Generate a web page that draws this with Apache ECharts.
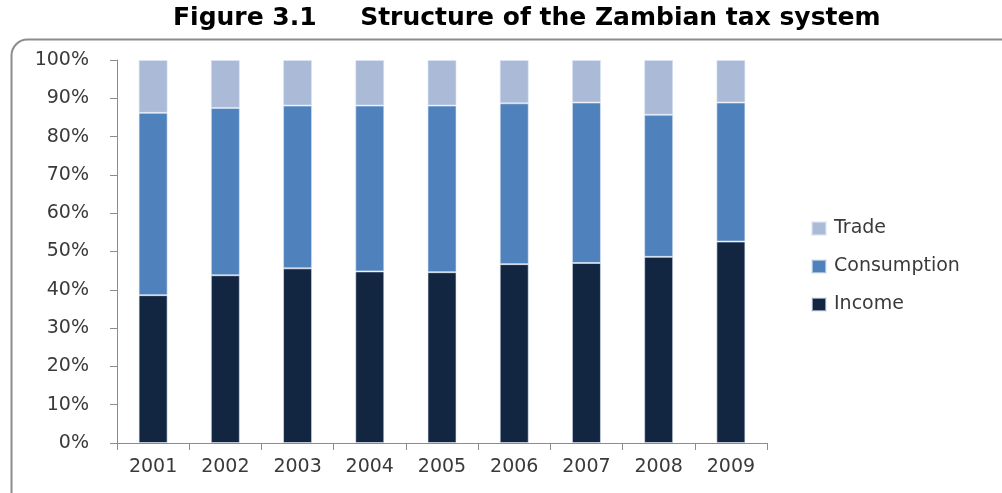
<!DOCTYPE html>
<html>
<head>
<meta charset="utf-8">
<script src="https://cdn.jsdelivr.net/npm/echarts@6/dist/echarts.min.js"></script>
<style>
html,body{margin:0;padding:0;background:#fff;}
#c{width:1002px;height:493px;}
</style>
</head>
<body>
<div id="c"></div>
<script>
const years = ['2001','2002','2003','2004','2005','2006','2007','2008','2009'];
const income = [38.6, 43.8, 45.6, 44.8, 44.6, 46.7, 47.0, 48.6, 52.6];
const consumption = [47.6, 43.7, 42.5, 43.3, 43.5, 42.0, 41.9, 37.1, 36.3];
const trade = [13.8, 12.5, 11.9, 11.9, 11.9, 11.3, 11.1, 14.3, 11.1];
const yTicks = [0,10,20,30,40,50,60,70,80,90,100];

const chart = echarts.init(document.getElementById('c'), null, {renderer:'canvas'});
const lab = {fontFamily:'DejaVu Sans', fontSize:19, color:'#3a3a3a'};
const barBorder = {borderColor:'rgba(220,230,245,0.6)', borderWidth:1};
chart.setOption({
  animation:false,
  backgroundColor:'#fff',
  title:{
    text:'Figure 3.1     Structure of the Zambian tax system',
    left:168, top:1,
    textStyle:{fontFamily:'DejaVu Sans', fontWeight:'bold', fontSize:25, color:'#000'}
  },
  graphic:[{
    type:'rect', left:9, top:37, z:-1,
    shape:{width:1010, height:480, r:16},
    style:{fill:'none', stroke:'#8c8c8c', lineWidth:2}
  }],
  legend:{
    orient:'vertical', left:806, top:214, itemGap:19,
    itemWidth:14, itemHeight:13, icon:'rect',
    data:['Trade','Consumption','Income'],
    textStyle:Object.assign({padding:[0,0,0,3]}, lab)
  },
  grid:{left:117, right:235, top:60, bottom:50},
  xAxis:{
    type:'category', data:years,
    axisLine:{lineStyle:{color:'#8c8c8c', width:1}},
    axisTick:{show:true, length:7, lineStyle:{color:'#8c8c8c'}},
    axisLabel:Object.assign({margin:15}, lab)
  },
  yAxis:{
    type:'value', min:0, max:100, interval:10,
    axisLine:{show:true, lineStyle:{color:'#8c8c8c', width:1}},
    axisTick:{show:true, length:7, lineStyle:{color:'#8c8c8c'}},
    splitLine:{show:false},
    axisLabel:Object.assign({margin:28, formatter: v => yTicks.includes(v) ? v + '%' : ''}, lab)
  },
  series:[
    {name:'Income', type:'bar', stack:'t', data:income, barWidth:29,
     itemStyle:Object.assign({color:'#132641'}, barBorder)},
    {name:'Consumption', type:'bar', stack:'t', data:consumption, barWidth:29,
     itemStyle:Object.assign({color:'#4f81bd'}, barBorder)},
    {name:'Trade', type:'bar', stack:'t', data:trade, barWidth:29,
     itemStyle:Object.assign({color:'#aabad7'}, barBorder)}
  ]
});
</script>
</body>
</html>
